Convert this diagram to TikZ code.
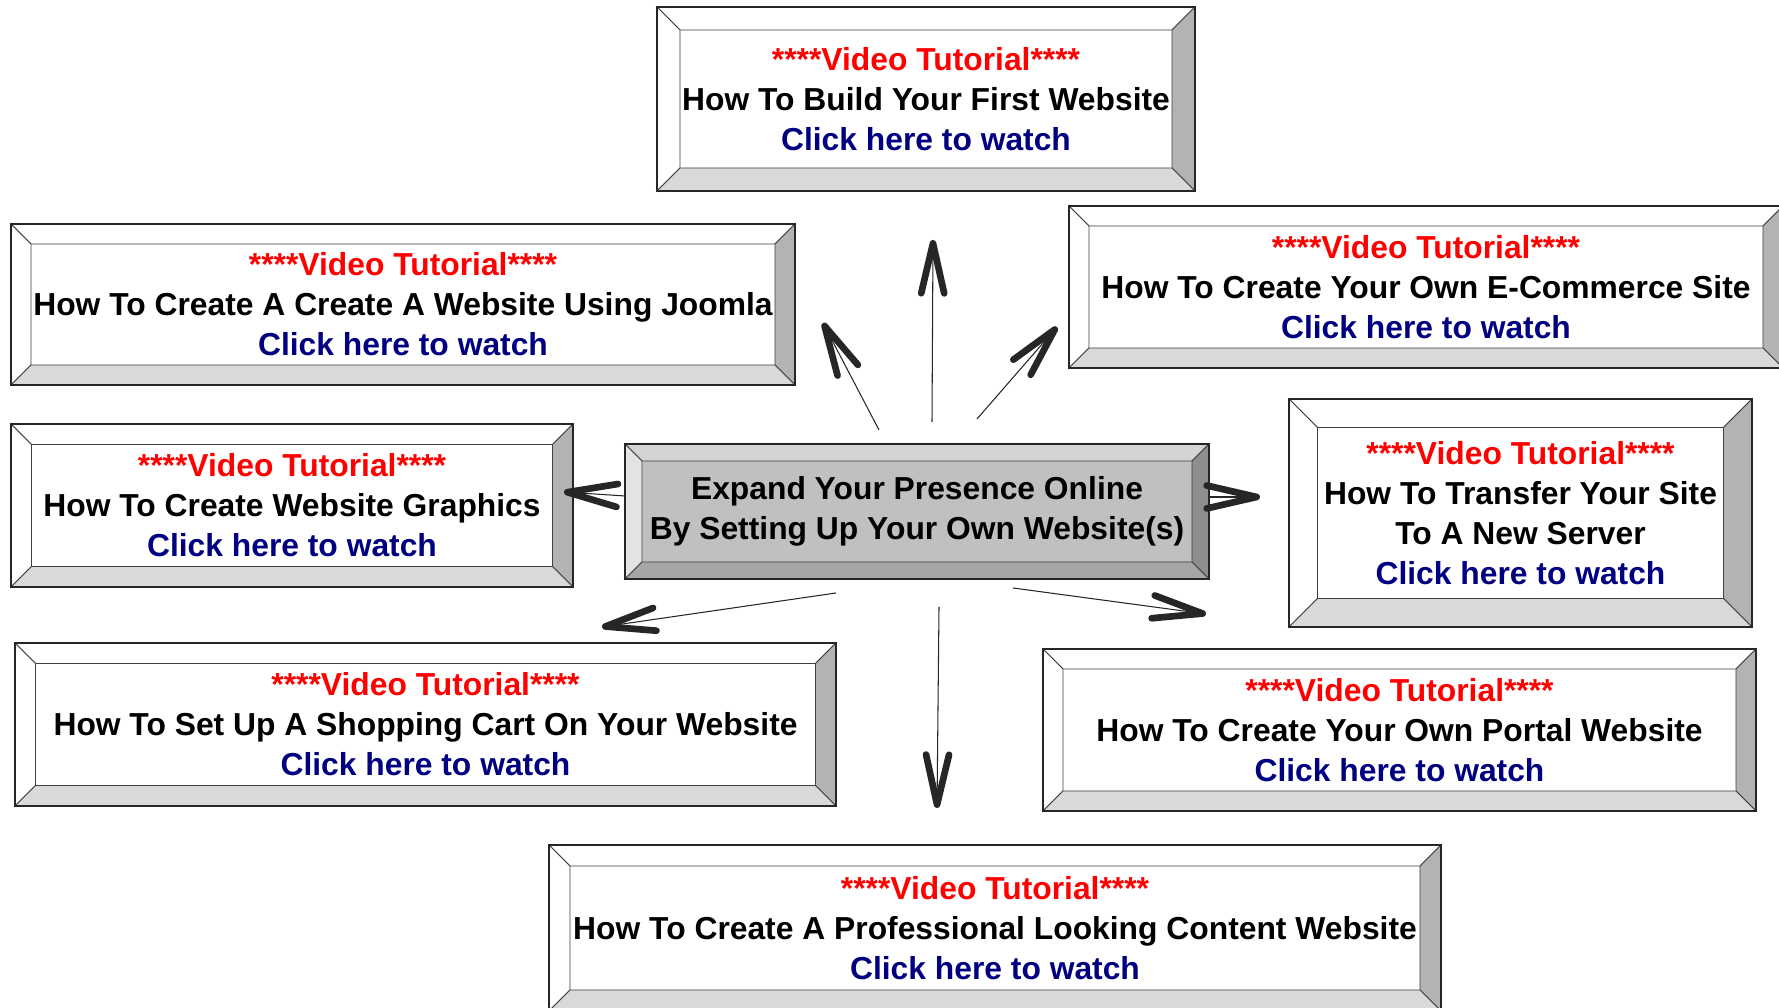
\documentclass[tikz,border=0pt]{standalone}
\usepackage{fontspec}
\setmainfont{Liberation Sans}
\usetikzlibrary{calc,arrows.meta}

\definecolor{tutred}{HTML}{FF0000}
\definecolor{clickblue}{HTML}{000080}
\definecolor{bevdark}{HTML}{B3B3B3}
\definecolor{bevlight}{HTML}{D9D9D9}
\definecolor{hubface}{HTML}{C0C0C0}
\definecolor{hubtop}{HTML}{D4D4D4}
\definecolor{hubleft}{HTML}{E3E3E3}
\definecolor{hubright}{HTML}{8E8E8E}
\definecolor{hubbottom}{HTML}{A6A6A6}

\newcommand\vidhead{\textcolor{tutred}{****Video Tutorial****}}
\newcommand\clickline{\textcolor{clickblue}{Click here to watch}}

% bevel faces of a box: node, size, top, left, right, bottom
\newcommand\bevels[6]{%
  \path (#1.north west) coordinate (o1) (#1.north east) coordinate (o2)
        (#1.south east) coordinate (o3) (#1.south west) coordinate (o4);
  \path ($(o1)+(#2,-#2)$) coordinate (i1) ($(o2)+(-#2,-#2)$) coordinate (i2)
        ($(o3)+(-#2,#2)$) coordinate (i3) ($(o4)+(#2,#2)$) coordinate (i4);
  \filldraw[bevline,fill=#3] (o1) -- (o2) -- (i2) -- (i1) -- cycle;
  \filldraw[bevline,fill=#4] (o1) -- (i1) -- (i4) -- (o4) -- cycle;
  \filldraw[bevline,fill=#5] (o2) -- (o3) -- (i3) -- (i2) -- cycle;
  \filldraw[bevline,fill=#6] (o4) -- (i4) -- (i3) -- (o3) -- cycle;
  \draw[edgeline] (o1) rectangle (o3);
}

\begin{document}
\begin{tikzpicture}[
  tutbox/.style={draw, fill=white, inner sep=0pt, outer sep=0pt, align=center,
    font=\fontsize{18.1}{22.7}\selectfont\bfseries},
  hubbox/.style={tutbox, fill=hubface},
  bevline/.style={draw=black!75, line width=0.5pt},
  edgeline/.style={draw=black!85, line width=1pt},
  spoke/.style={draw=black!85, line width=0.6pt,
    -{Straight Barb[length=1cm,width=0.46cm,line width=3.8pt,round]}}]
\useasboundingbox (0,0) rectangle (35.58,20.16);
\clip (0,0) rectangle (35.58,20.16);

\draw (18.52,18.18) node[tutbox,minimum width=10.76cm,minimum height=3.68cm](first)
  {\vidhead\\How To Build Your First Website\\\clickline};
\draw (8.06,14.07) node[tutbox,minimum width=15.68cm,minimum height=3.22cm](joomla)
  {\vidhead\\How To Create A Create A Website Using Joomla\\\clickline};
\draw (28.52,14.42) node[tutbox,minimum width=14.28cm,minimum height=3.24cm](ecom)
  {\vidhead\\How To Create Your Own E-Commerce Site\\\clickline};
\draw (5.84,10.05) node[tutbox,minimum width=11.24cm,minimum height=3.26cm](graphics)
  {\vidhead\\How To Create Website Graphics\\\clickline};
\draw (18.34,9.93) node[hubbox,minimum width=11.68cm,minimum height=2.70cm](hub)
  {Expand Your Presence Online\\By Setting Up Your Own Website(s)};
\draw (30.41,9.90) node[tutbox,minimum width=9.26cm,minimum height=4.56cm](transfer)
  {\vidhead\\How To Transfer Your Site\\To A New Server\\\clickline};
\draw (8.51,5.67) node[tutbox,minimum width=16.42cm,minimum height=3.26cm](cart)
  {\vidhead\\How To Set Up A Shopping Cart On Your Website\\\clickline};
\draw (27.99,5.56) node[tutbox,minimum width=14.26cm,minimum height=3.24cm](portal)
  {\vidhead\\How To Create Your Own Portal Website\\\clickline};
\draw (19.90,1.60) node[tutbox,minimum width=17.84cm,minimum height=3.32cm](content)
  {\vidhead\\How To Create A Professional Looking Content Website\\\clickline};

\bevels{first}{0.46}{white}{white}{bevdark}{bevlight}
\bevels{joomla}{0.40}{white}{white}{bevdark}{bevlight}
\bevels{ecom}{0.40}{white}{white}{bevdark}{bevlight}
\bevels{graphics}{0.41}{white}{white}{bevdark}{bevlight}
\bevels{hub}{0.34}{hubtop}{hubleft}{hubright}{hubbottom}
\bevels{transfer}{0.57}{white}{white}{bevdark}{bevlight}
\bevels{cart}{0.41}{white}{white}{bevdark}{bevlight}
\bevels{portal}{0.40}{white}{white}{bevdark}{bevlight}
\bevels{content}{0.42}{white}{white}{bevdark}{bevlight}

% spokes out of the hub
\coordinate (hubUL) at (17.58,11.56); \coordinate (tipUL) at (16.46,13.70);
\coordinate (hubU) at (18.64,11.72);  \coordinate (tipU) at (18.66,15.36);
\coordinate (hubUR) at (19.54,11.78); \coordinate (tipUR) at (21.14,13.62);
\coordinate (hubL) at (12.50,10.24);  \coordinate (tipL) at (11.28,10.32);
\coordinate (hubR) at (24.18,10.22);  \coordinate (tipR) at (25.20,10.22);
\coordinate (hubDL) at (16.72,8.30);  \coordinate (tipDL) at (12.04,7.62);
\coordinate (hubD) at (18.78,8.02);   \coordinate (tipD) at (18.74,4.00);
\coordinate (hubDR) at (20.26,8.40);  \coordinate (tipDR) at (24.12,7.88);
\draw[spoke] (hubUL) -- (tipUL);
\draw[spoke] (hubU) -- (tipU);
\draw[spoke] (hubUR) -- (tipUR);
\draw[spoke] (hubL) -- (tipL);
\draw[spoke] (hubR) -- (tipR);
\draw[spoke] (hubDL) -- (tipDL);
\draw[spoke] (hubD) -- (tipD);
\draw[spoke] (hubDR) -- (tipDR);
\end{tikzpicture}
\end{document}
